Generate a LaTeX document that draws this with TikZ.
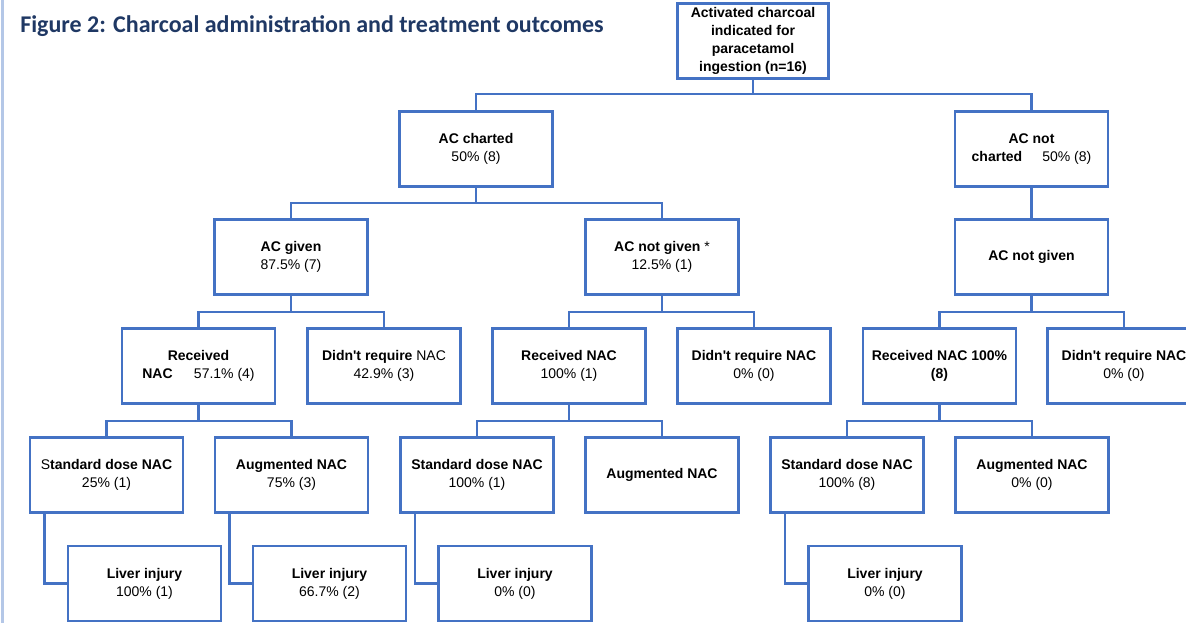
\documentclass[tikz,border=0pt]{standalone}
\usepackage{fontspec}
\setmainfont{Liberation Sans}
\newfontfamily\titlefont{Carlito}
\definecolor{boxblue}{HTML}{4472C4}
\definecolor{titleblue}{HTML}{1F3864}
\definecolor{edgeblue}{HTML}{B4C7E7}
\begin{document}
\begin{tikzpicture}[x=0.75pt,y=-0.75pt,
  box/.style={draw=boxblue, line width=1.8pt, minimum width=115pt, minimum height=56pt,
    align=center, inner sep=2pt, text=black, font=\fontsize{10.5}{13.5}\selectfont},
  link/.style={draw=boxblue, line width=1.8pt}]
\useasboundingbox (0,0) rectangle (1186,623);
\clip (0,0) rectangle (1186,623);

% page margin rule
\draw[edgeblue, line width=1.5pt] (2.5,0) -- (2.5,623);

% title
\node[anchor=base west, inner sep=0, text=titleblue,
  font=\titlefont\bfseries\fontsize{18}{21}\selectfont] (title) at (20,32.5)
  {Figure 2: Charcoal administration and treatment outcomes};

% level 0
\node[box, minimum width=113pt, font=\bfseries\fontsize{10.5}{13.5}\selectfont] (root) at (753,41)
  {Activated charcoal\\indicated for\\paracetamol\\ingestion (n=16)};

% level 1
\node[box] (ch)  at (476,149)    {\textbf{AC charted}\\50\% (8)};
\node[box] (nch) at (1031.5,149) {\textbf{AC not}\\\textbf{charted}\hspace{15pt}50\% (8)};

% level 2
\node[box] (giv)   at (291,257)    {\textbf{AC given}\\87.5\% (7)};
\node[box] (ngiv)  at (662,257)    {\textbf{AC not given} *\\12.5\% (1)};
\node[box] (ngivr) at (1031.5,257) {\textbf{AC not given}};

% level 3
\node[box] (recA) at (198.5,366) {\textbf{Received}\\\textbf{NAC}\hspace{16pt}57.1\% (4)};
\node[box] (drA)  at (384,366)   {\textbf{Didn\textquotesingle t require} NAC\\42.9\% (3)};
\node[box] (recB) at (569,366)   {\textbf{Received NAC}\\100\% (1)};
\node[box] (drB)  at (754,366)   {\textbf{Didn\textquotesingle t require NAC}\\0\% (0)};
\node[box] (recC) at (939.5,366) {\textbf{Received NAC 100\%}\\\textbf{(8)}};
\node[box] (drC)  at (1124,366)  {\textbf{Didn\textquotesingle t require NAC}\\0\% (0)};

% level 4
\node[box] (stdA) at (106.5,475) {S\textbf{tandard dose NAC}\\25\% (1)};
\node[box] (augA) at (291.5,475) {\textbf{Augmented NAC}\\75\% (3)};
\node[box] (stdB) at (477,475)   {\textbf{Standard dose NAC}\\100\% (1)};
\node[box] (augB) at (662,475)   {\textbf{Augmented NAC}};
\node[box] (stdC) at (847,475)   {\textbf{Standard dose NAC}\\100\% (8)};
\node[box] (augC) at (1032,475)  {\textbf{Augmented NAC}\\0\% (0)};

% level 5
\node[box] (livA) at (144.5,583.5) {\textbf{Liver injury}\\100\% (1)};
\node[box] (livB) at (329.5,583.5) {\textbf{Liver injury}\\66.7\% (2)};
\node[box] (livC) at (515,583.5)   {\textbf{Liver injury}\\0\% (0)};
\node[box] (livD) at (885,583.5)   {\textbf{Liver injury}\\0\% (0)};

% branch points
\coordinate (b1) at (753,94);
\coordinate (b2) at (476,203);
\coordinate (b3) at (291,312);
\coordinate (b4) at (662,312);
\coordinate (b5) at (1031.5,312);
\coordinate (b6) at (198.5,421);
\coordinate (b7) at (569,421);
\coordinate (b8) at (939.5,421);

% connectors
\draw[link] (root.south) -- (b1);
\draw[link] (ch.north) |- (b1) -| (nch.north);

\draw[link] (ch.south) -- (b2);
\draw[link] (giv.north) |- (b2) -| (ngiv.north);
\draw[link] (nch.south) -- (ngivr.north);

\draw[link] (giv.south) -- (b3);
\draw[link] (recA.north) |- (b3) -| (drA.north);
\draw[link] (ngiv.south) -- (b4);
\draw[link] (recB.north) |- (b4) -| (drB.north);
\draw[link] (ngivr.south) -- (b5);
\draw[link] (recC.north) |- (b5) -| (drC.north);

\draw[link] (recA.south) -- (b6);
\draw[link] (stdA.north) |- (b6) -| (augA.north);
\draw[link] (recB.south) -- (b7);
\draw[link] (stdB.north) |- (b7) -| (augB.north);
\draw[link] (recC.south) -- (b8);
\draw[link] (stdC.north) |- (b8) -| (augC.north);

\draw[link] ([xshift=12pt]stdA.south west) |- (livA.west);
\draw[link] ([xshift=12pt]augA.south west) |- (livB.west);
\draw[link] ([xshift=12pt]stdB.south west) |- (livC.west);
\draw[link] ([xshift=12pt]stdC.south west) |- (livD.west);
\end{tikzpicture}
\end{document}
